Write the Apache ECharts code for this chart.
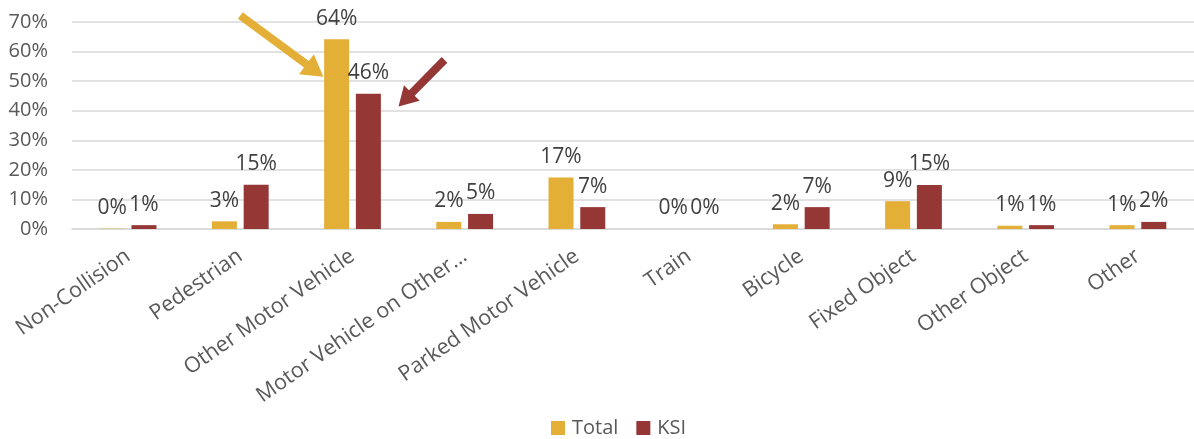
<!DOCTYPE html>
<html>
<head>
<meta charset="utf-8">
<script src="https://cdn.jsdelivr.net/npm/echarts@6/dist/echarts.min.js"></script>
<style>
html,body{margin:0;padding:0;background:#fff;}
#chart{width:1194px;height:439px;}
</style>
</head>
<body>
<div id="chart"></div>
<script>
const categories = ['Non-Collision','Pedestrian','Other Motor Vehicle','Motor Vehicle on Other\u2026','Parked Motor Vehicle','Train','Bicycle','Fixed Object','Other Object','Other'];
const totalValues = [0.1, 2.6, 64.2, 2.4, 17.4, 0.0, 1.6, 9.4, 1.1, 1.3];
const ksiValues = [1.3, 15.0, 45.7, 5.1, 7.4, 0.0, 7.4, 14.9, 1.3, 2.4];
const seriesNames = ['Total', 'KSI'];
const yTicks = {min: 0, max: 70, interval: 10};
// arrow annotations: [categoryIndex(fractional), value%] tail -> tip
const goldArrow = {tail: [1.0, 72.2], tip: [1.74, 51.5]};
const redArrow = {tail: [2.82, 57.2], tip: [2.41, 41.4]};

const FONT = '"Open Sans", "Noto Sans", sans-serif';
const GOLD = '#E3AF37';
const RED = '#953735';
const chart = echarts.init(document.getElementById('chart'), null, {renderer: 'canvas'});

const lbl = {
  show: true, position: 'top', distance: 10,
  fontFamily: FONT, fontSize: 21, color: '#404040',
  formatter: p => Math.round(p.value) + '%'
};

chart.setOption({
  animation: false,
  grid: {left: 72, right: -12, top: 22, bottom: 210, containLabel: false},
  legend: {
    data: seriesNames, left: 551, top: 418, icon: 'rect', padding: 0,
    itemWidth: 14, itemHeight: 14, itemGap: 18,
    textStyle: {fontFamily: FONT, fontSize: 20, color: '#595959', padding: [0, 0, 0, 2]}
  },
  xAxis: {
    type: 'category', data: categories,
    axisTick: {show: false},
    axisLine: {lineStyle: {color: '#d9d9d9', width: 1.5}},
    axisLabel: {interval: 0, rotate: 35, margin: 25, fontFamily: FONT, fontSize: 21.5, color: '#595959'}
  },
  yAxis: {
    type: 'value', min: yTicks.min, max: yTicks.max, interval: yTicks.interval,
    axisLine: {show: false}, axisTick: {show: false},
    axisLabel: {formatter: '{value}%', margin: 24, fontFamily: FONT, fontSize: 20, color: '#595959'},
    splitLine: {lineStyle: {color: '#d9d9d9', width: 1.5}}
  },
  series: [
    {name: seriesNames[0], type: 'bar', data: totalValues, barWidth: 25, barGap: '27%', itemStyle: {color: GOLD}, label: lbl},
    {name: seriesNames[1], type: 'bar', data: ksiValues, barWidth: 25, barGap: '27%', itemStyle: {color: RED}, label: lbl}
  ]
});

function px(pt) {
  const a = chart.convertToPixel({xAxisIndex: 0, yAxisIndex: 0}, [0, pt[1]]);
  const b = chart.convertToPixel({xAxisIndex: 0, yAxisIndex: 0}, [1, pt[1]]);
  return [a[0] + (b[0] - a[0]) * pt[0], a[1]];
}
function arrowPoly(tail, tip, shaftW, headW, headL) {
  const dx = tip[0] - tail[0], dy = tip[1] - tail[1];
  const len = Math.hypot(dx, dy);
  const ux = dx / len, uy = dy / len, nx = -uy, ny = ux;
  const bx = tip[0] - ux * headL, by = tip[1] - uy * headL;
  const s = shaftW / 2, h = headW / 2;
  return [
    [tail[0] + nx * s, tail[1] + ny * s],
    [bx + nx * s, by + ny * s],
    [bx + nx * h, by + ny * h],
    tip,
    [bx - nx * h, by - ny * h],
    [bx - nx * s, by - ny * s],
    [tail[0] - nx * s, tail[1] - ny * s]
  ];
}
chart.setOption({
  graphic: [
    {type: 'polygon', shape: {points: arrowPoly(px(goldArrow.tail), px(goldArrow.tip), 8, 25, 21)}, style: {fill: GOLD}, z: 100},
    {type: 'polygon', shape: {points: arrowPoly(px(redArrow.tail), px(redArrow.tip), 8, 22, 19)}, style: {fill: RED}, z: 100}
  ]
});
</script>
</body>
</html>
